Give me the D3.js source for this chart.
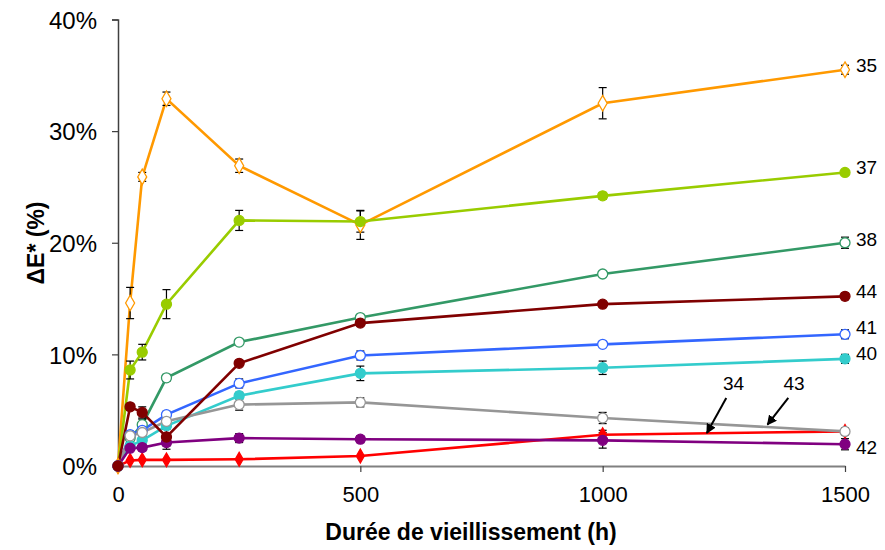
<!DOCTYPE html>
<html><head><meta charset="utf-8">
<script src="https://cdn.jsdelivr.net/npm/d3@7/dist/d3.min.js"></script>
<style>
html,body{margin:0;padding:0;background:#fff;}
svg text{font-family:"Liberation Sans",Arial,sans-serif;fill:#000;}
</style></head>
<body><svg id="chart" width="885" height="550"></svg>
<script>
const hours = [0, 25, 50, 100, 250, 500, 1000, 1500];
const xTicks = [0, 500, 1000, 1500];
const yTicks = [0, 10, 20, 30, 40];

const s34 = [0, 0.5, 0.55, 0.55, 0.6, 0.9, 2.8, 3.1];
const e34 = [0, 0, 0, 0, 0, 0, 0.4, 0.3];
const s35 = [0, 14.6, 25.9, 32.9, 26.9, 21.6, 32.5, 35.5];
const e35 = [0, 1.4, 0.4, 0.6, 0.6, 1.3, 1.4, 0.4];
const s37 = [0, 8.6, 10.2, 14.5, 22.0, 21.9, 24.2, 26.3];
const e37 = [0, 0.8, 0.7, 1.3, 0.9, 0.95, 0.3, 0.2];
const s38 = [0, 2.5, 3.7, 7.9, 11.1, 13.3, 17.2, 20.0];
const e38 = [0, 0.3, 0.5, 0.3, 0.2, 0.2, 0.2, 0.5];
const s41 = [0, 2.8, 3.2, 4.6, 7.4, 9.9, 10.9, 11.8];
const e41 = [0, 0.3, 0.3, 0.3, 0.4, 0.4, 0.2, 0.4];
const s40 = [0, 1.8, 2.3, 3.6, 6.3, 8.3, 8.8, 9.6];
const e40 = [0, 0.2, 0.3, 0.3, 0.3, 0.65, 0.6, 0.4];
const s43 = [0, 2.7, 3.0, 4.0, 5.5, 5.7, 4.3, 3.1];
const e43 = [0, 0.4, 0.3, 0.4, 0.5, 0.4, 0.5, 0.3];
const s42 = [0, 1.6, 1.65, 2.1, 2.5, 2.4, 2.3, 1.95];
const e42 = [0, 0.2, 0.3, 0.6, 0.4, 0.3, 0.7, 0.5];
const s44 = [0, 5.3, 4.8, 2.6, 9.2, 12.8, 14.5, 15.2];
const e44 = [0, 0.3, 0.5, 0.8, 0.2, 0.2, 0.2, 0.3];

const series = [
  {name:"34", vals:s34, err:e34, color:"#FF0000", shape:"diamond", fill:true, size:4},
  {name:"35", vals:s35, err:e35, color:"#FF9900", shape:"diamond", fill:false, size:5},
  {name:"37", vals:s37, err:e37, color:"#99CC00", shape:"circle", fill:true, size:5},
  {name:"38", vals:s38, err:e38, color:"#339966", shape:"circle", fill:false, size:5},
  {name:"41", vals:s41, err:e41, color:"#3366FF", shape:"circle", fill:false, size:5},
  {name:"40", vals:s40, err:e40, color:"#33CCCC", shape:"circle", fill:true, size:5},
  {name:"43", vals:s43, err:e43, color:"#969696", shape:"circle", fill:false, size:5},
  {name:"42", vals:s42, err:e42, color:"#800080", shape:"circle", fill:true, size:5},
  {name:"44", vals:s44, err:e44, color:"#800000", shape:"circle", fill:true, size:5}
];

// end labels: [text, hour, value] in data units
const endLabels = [
  ["35", 1500, 35.9], ["37", 1500, 26.8], ["38", 1500, 20.3], ["44", 1500, 15.7],
  ["41", 1500, 12.4], ["40", 1500, 10.1], ["42", 1500, 1.7]
];
// arrow labels: [text, labelHour, labelValue, fromHour, fromValue, toHour, toValue]
const arrowLabels = [
  ["34", 1270, 7.4, 1255, 6.1, 1215, 2.95],
  ["43", 1395, 7.4, 1383, 6.1, 1340, 3.7]
];

const svg = d3.select("#chart");
const x = d3.scaleLinear().domain([0, 1500]).range([118, 845]);
const y = d3.scaleLinear().domain([0, 40]).range([466, 19.5]);

// axes
const yAxis = svg.append("g").attr("transform", "translate(118,0)")
  .call(d3.axisLeft(y).tickValues(yTicks).tickSize(6).tickPadding(15).tickFormat(d => d + "%"));
yAxis.select(".domain").attr("stroke", "#404040").attr("stroke-width", 1.5);
yAxis.selectAll(".tick line").attr("stroke", "#404040").attr("stroke-width", 1.2);
yAxis.selectAll(".tick text").style("font-size", "24px").attr("dy", "0.36em");

const xAxis = svg.append("g").attr("transform", "translate(0,466)")
  .call(d3.axisBottom(x).tickValues(xTicks).tickSize(6).tickSizeOuter(0).tickPadding(14).tickFormat(d3.format("d")));
xAxis.select(".domain").attr("stroke", "#808080").attr("stroke-width", 2.2);
xAxis.selectAll(".tick line").attr("stroke", "#404040").attr("stroke-width", 1.2);
xAxis.selectAll(".tick text").style("font-size", "22px");

svg.append("text").attr("x", 471).attr("y", 540).attr("text-anchor", "middle")
  .style("font-size", "23px").style("font-weight", "bold").text("Durée de vieillissement (h)");
svg.append("text").attr("transform", "translate(44,243) rotate(-90)").attr("text-anchor", "middle")
  .style("font-size", "23px").style("font-weight", "bold").text("ΔE* (%)");

const line = d3.line().x((d, i) => x(hours[i])).y(d => y(d));
const diamond = d3.symbol().type(d3.symbolDiamond);

series.forEach(s => {
  const g = svg.append("g");
  g.append("path").attr("d", line(s.vals)).attr("fill", "none")
    .attr("stroke", s.color).attr("stroke-width", 2.6);
  // error bars
  s.vals.forEach((v, i) => {
    const e = s.err[i];
    if (!e) return;
    const cx = x(hours[i]);
    const eg = g.append("g").attr("stroke", "#000").attr("stroke-width", 1.2);
    eg.append("line").attr("x1", cx).attr("x2", cx).attr("y1", y(v - e)).attr("y2", y(v + e));
    eg.append("line").attr("x1", cx - 4).attr("x2", cx + 4).attr("y1", y(v - e)).attr("y2", y(v - e));
    eg.append("line").attr("x1", cx - 4).attr("x2", cx + 4).attr("y1", y(v + e)).attr("y2", y(v + e));
  });
});
series.forEach(s => {
  const g = svg.append("g");
  s.vals.forEach((v, i) => {
    const cx = x(hours[i]), cy = y(v);
    let m;
    if (s.shape === "diamond") {
      const sz = s.fill ? 55 : 70;
      m = g.append("path").attr("d", diamond.size(sz)()).attr("transform", `translate(${cx},${cy})`);
    } else {
      m = g.append("circle").attr("cx", cx).attr("cy", cy).attr("r", s.size);
    }
    m.attr("fill", s.fill ? s.color : "#fff").attr("stroke", s.color).attr("stroke-width", 1.3);
  });
});

// end labels
endLabels.forEach(([t, h, v]) => {
  svg.append("text").attr("x", x(h) + 11).attr("y", y(v)).attr("dy", "0.36em")
    .style("font-size", "19px").text(t);
});

// arrows
const defs = svg.append("defs");
defs.append("marker").attr("id", "arr").attr("viewBox", "0 0 10 10").attr("refX", 9).attr("refY", 5)
  .attr("markerWidth", 5).attr("markerHeight", 5).attr("orient", "auto")
  .append("path").attr("d", "M0,0 L10,5 L0,10 z").attr("fill", "#000");
arrowLabels.forEach(([t, lh, lv, fh, fv, th, tv]) => {
  svg.append("text").attr("x", x(lh)).attr("y", y(lv)).attr("dy", "0.36em").attr("text-anchor", "middle")
    .style("font-size", "19px").text(t);
  svg.append("line").attr("x1", x(fh)).attr("y1", y(fv)).attr("x2", x(th)).attr("y2", y(tv))
    .attr("stroke", "#000").attr("stroke-width", 2).attr("marker-end", "url(#arr)");
});
</script></body></html>
